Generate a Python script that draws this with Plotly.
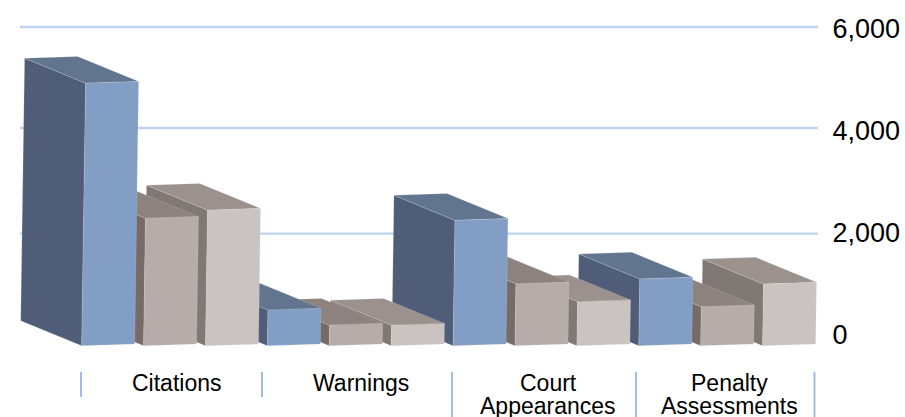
import plotly.graph_objects as go

categories = ["Citations", "Warnings", "Court\nAppearances", "Penalty\nAssessments"]
series_names = ["Series A", "Series B", "Series C"]
series_a = [5150, 700, 2460, 1310]
series_b = [2500, 405, 1215, 765]
series_c = [2660, 405, 865, 1210]
y_ticks = [0, 2000, 4000, 6000]
grid_levels = [1987, 4059, 6040]
label_centres = [176, 361, 548, 729.5]
separator_px = [(81, 397), (262, 397), (452, 417), (636, 417), (814.5, 417)]

face_colors = {
    0: ("#829EC4", "#4F5D78", "#62758F"),
    1: ("#B6ADAA", "#766B66", "#8D827D"),
    2: ("#C9C4C2", "#807873", "#9B918D"),
}

W, H = 905, 417
PLOT_W = 820
X0 = 81.7
STEP = 61.9
Y0 = 335.0
PX_PER_UNIT = 0.051
BASE_PX = 345.8
BAR_W = 53.0
TILT = 1.75
SKEW = 0.015
DEPTH = (-61.0, -25.0)

x_range = [(0 - X0) / STEP, (PLOT_W - X0) / STEP]
y_range = [(Y0 - H) / PX_PER_UNIT, Y0 / PX_PER_UNIT]


def pt(px, py):
    return (px - X0) / STEP, (Y0 - py) / PX_PER_UNIT


def bar_faces(index, value):
    h = value * PX_PER_UNIT
    xl = X0 + STEP * index
    bl = (xl, BASE_PX)
    br = (xl + BAR_W, BASE_PX - TILT)
    tl = (xl + h * SKEW, BASE_PX - h)
    tr = (xl + BAR_W + h * SKEW, BASE_PX - TILT - h)
    back = lambda p: (p[0] + DEPTH[0], p[1] + DEPTH[1])
    front = [bl, br, tr, tl]
    side = [bl, tl, back(tl), back(bl)]
    top = [tl, tr, back(tr), back(tl)]
    return front, side, top


bars = []
for c in range(len(categories)):
    for s, vals in enumerate([series_a, series_b, series_c]):
        bars.append((vals[c], c * 3 + s, s, c))
bars.sort(key=lambda b: b[0])

fig = go.Figure()


def add_face(poly, col, s, edge="rgba(225,225,225,0.3)"):
    pts = [pt(*p) for p in poly] + [pt(*poly[0])]
    fig.add_trace(go.Scatter(
        x=[p[0] for p in pts], y=[p[1] for p in pts],
        mode="lines", fill="toself", fillcolor=col,
        line=dict(color=edge, width=0.6),
        name=series_names[s], showlegend=False,
        hoverinfo="skip",
    ))


# Sides first, then tops by height, then every front face on top.
for value, idx, s, c in bars:
    add_face(bar_faces(idx, value)[1], face_colors[s][1], s)
for value, idx, s, c in bars:
    add_face(bar_faces(idx, value)[2], face_colors[s][2], s)
for value, idx, s, c in bars:
    add_face(bar_faces(idx, value)[0], face_colors[s][0], s)

shapes = []
for g in grid_levels:
    shapes.append(dict(
        type="line", layer="below", xref="paper", yref="y",
        x0=20 / PLOT_W, x1=818 / PLOT_W, y0=g, y1=g,
        line=dict(color="#BDD3EE", width=2.4),
    ))
for sx, end in separator_px:
    shapes.append(dict(
        type="line", xref="paper", yref="paper",
        x0=sx / PLOT_W, x1=sx / PLOT_W, y0=1 - 372 / H, y1=1 - end / H,
        line=dict(color="#9DBDE6", width=2),
    ))

annotations = []
for cat, cx in zip(categories, label_centres):
    lines = cat.split("\n")
    for i, line in enumerate(lines):
        annotations.append(dict(
            text=line, xref="paper", yref="paper",
            x=cx / PLOT_W, y=1 - (383 + i * 23) / H,
            xanchor="center", yanchor="middle", showarrow=False,
            font=dict(family="Liberation Sans", size=23, color="#000000"),
        ))

fig.update_layout(
    width=W, height=H,
    margin=dict(l=0, r=W - PLOT_W, t=0, b=0, autoexpand=False),
    paper_bgcolor="white", plot_bgcolor="white",
    showlegend=False, shapes=shapes, annotations=annotations,
    xaxis=dict(range=x_range, visible=False, fixedrange=True),
    yaxis=dict(
        range=y_range, side="right", tickvals=y_ticks, tickformat=",",
        showgrid=False, zeroline=False, showline=False,
        ticks="outside", ticklen=6, tickcolor="rgba(0,0,0,0)",
        tickfont=dict(family="Liberation Sans", size=27, color="#000000"),
        fixedrange=True,
    ),
)

fig.write_html("out.html", post_script="document.body.style.margin='0';document.body.style.overflow='hidden';",
               config={"displayModeBar": False})
